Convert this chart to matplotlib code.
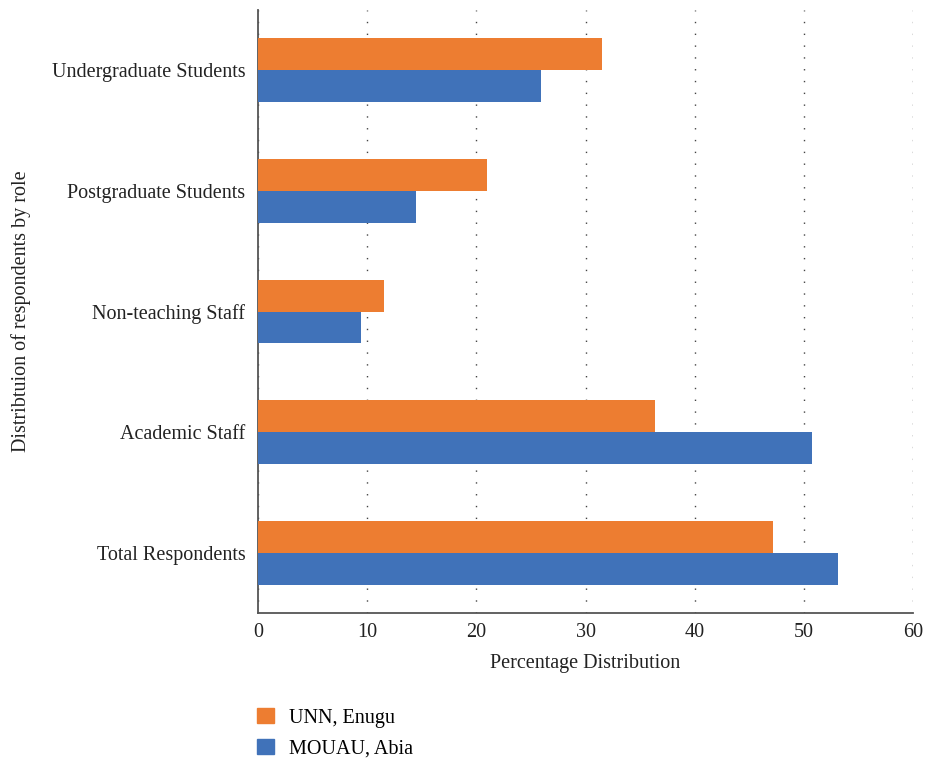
import numpy as np
import matplotlib.pyplot as plt
from matplotlib.patches import Patch

# Data (bottom to top)
roles = ['Total Respondents', 'Academic Staff', 'Non-teaching Staff',
         'Postgraduate Students', 'Undergraduate Students']
unn_enugu = [47.2, 36.4, 11.5, 21.0, 31.5]
mouau_abia = [53.1, 50.7, 9.4, 14.5, 25.9]
series_names = ['UNN, Enugu', 'MOUAU, Abia']

orange = '#ED7D31'
blue = '#4072B9'

plt.rcParams['font.family'] = ['Liberation Serif', 'DejaVu Serif']

fig = plt.figure(figsize = (9.26, 7.58), dpi = 100)
ax = fig.add_axes([0.2786, 0.1913, 0.7074, 0.7955])

y = np.arange(len(roles))
h = 0.265
ax.barh(y + h / 2, unn_enugu, height = h, color = orange, zorder = 3)
ax.barh(y - h / 2, mouau_abia, height = h, color = blue, zorder = 3)

ax.set_xlim(0, 60)
ax.set_ylim(-0.5, len(roles) - 0.5)
ax.set_xticks(np.arange(0, 61, 10))
ax.set_yticks(y)
ax.set_yticklabels(roles)
ax.tick_params(axis = 'both', length = 0, labelsize = 14.5, colors = '#222222')
ax.tick_params(axis = 'x', pad = 7)
ax.tick_params(axis = 'y', pad = 9)

ax.grid(axis = 'x', linestyle = (0, (1, 7.5)), color = '#444444', linewidth = 1.0, zorder = 0)
for side in ['top', 'right']:
   ax.spines[side].set_visible(False)
for side in ['left', 'bottom']:
   ax.spines[side].set_color('#555555')
   ax.spines[side].set_linewidth(1.3)

ax.set_xlabel('Percentage Distribution', fontsize = 14.5, color = '#222222', labelpad = 9)
ax.set_ylabel('Distribtuion of respondents by role', fontsize = 14.5, color = '#222222', labelpad = 15)

handles = [Patch(color = orange), Patch(color = blue)]
fig.legend(handles, series_names, loc = 'upper left', bbox_to_anchor = (0.278, 0.066),
           frameon = False, fontsize = 14.5, handlelength = 0.8, handleheight = 0.8,
           labelspacing = 0.55, handletextpad = 0.75, borderpad = 0, borderaxespad = 0)

fig.savefig('out.png', dpi = 100)
